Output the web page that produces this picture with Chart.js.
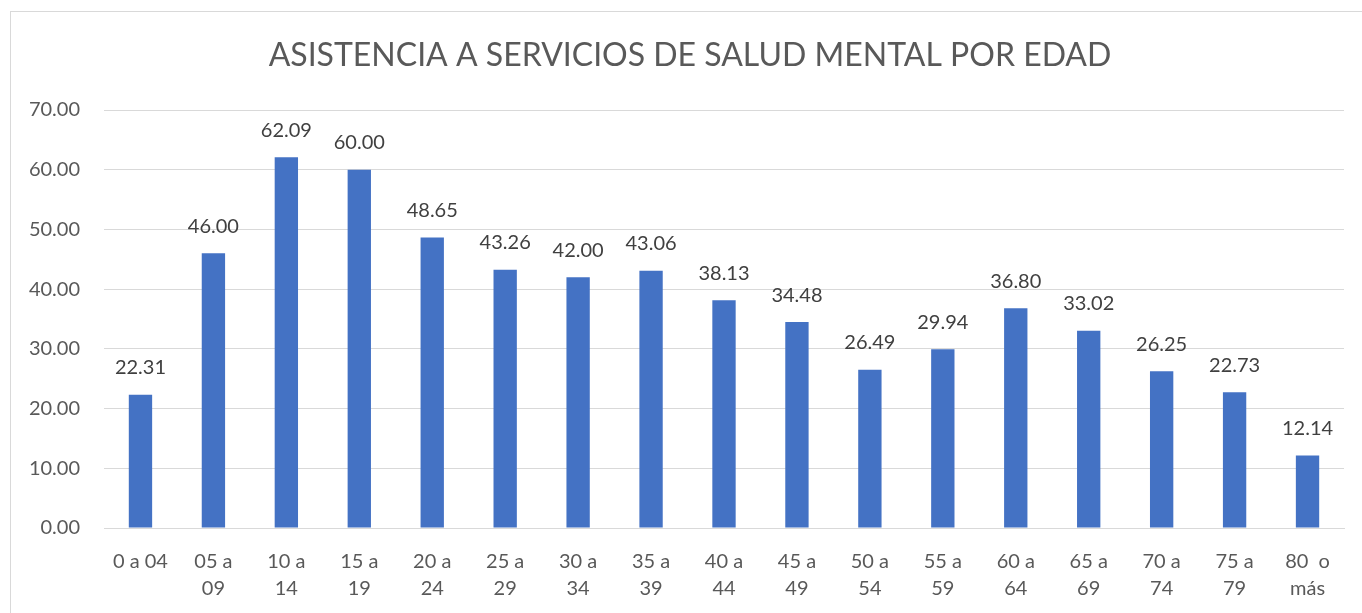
<!DOCTYPE html>
<html>
<head>
<meta charset="utf-8">
<script src="https://cdn.jsdelivr.net/npm/chart.js@4/dist/chart.umd.min.js"></script>
<style>
  html, body { margin: 0; padding: 0; background: #fff; overflow: hidden; }
  #frame {
    position: absolute; left: 10px; top: 11px; width: 1400px; height: 700px;
    border: 1px solid #d9d9d9; box-sizing: border-box;
  }
  #chart { position: absolute; left: 0; top: 0; }
</style>
</head>
<body>
<div id="frame"></div>
<canvas id="chart" width="1362" height="613"></canvas>
<script>
// age groups (two-line labels like the original)
const categories = [
  ["0 a 04"], ["05 a", "09"], ["10 a", "14"], ["15 a", "19"], ["20 a", "24"],
  ["25 a", "29"], ["30 a", "34"], ["35 a", "39"], ["40 a", "44"], ["45 a", "49"],
  ["50 a", "54"], ["55 a", "59"], ["60 a", "64"], ["65 a", "69"], ["70 a", "74"],
  ["75 a", "79"], ["80  o", "más"]
];

const values = [
  22.31, 46.00, 62.09, 60.00, 48.65, 43.26, 42.00, 43.06, 38.13,
  34.48, 26.49, 29.94, 36.80, 33.02, 26.25, 22.73, 12.14
];

const chartTitle = "ASISTENCIA A SERVICIOS DE SALUD MENTAL POR EDAD";
const fontFamily = "Lato, 'Open Sans', sans-serif";

// draws the value above each bar
const valueLabels = {
  id: "valueLabels",
  afterDatasetsDraw(chart) {
    const ctx = chart.ctx;
    const meta = chart.getDatasetMeta(0);
    ctx.save();
    ctx.font = "20px " + fontFamily;
    ctx.fillStyle = "#404040";
    ctx.textAlign = "center";
    ctx.textBaseline = "middle";
    meta.data.forEach((bar, i) => {
      ctx.fillText(values[i].toFixed(2), bar.x, bar.y - 27);
    });
    ctx.restore();
  },
};

// title is centred on the whole frame, not on the plot, so draw it by hand
const frameTitle = {
  id: "frameTitle",
  afterDraw(chart) {
    const ctx = chart.ctx;
    ctx.save();
    ctx.font = "32px " + fontFamily;
    ctx.fillStyle = "#595959";
    ctx.textAlign = "center";
    ctx.textBaseline = "middle";
    ctx.fillText(chartTitle, 690, 56);
    ctx.restore();
  },
};

const ctx = document.getElementById("chart").getContext("2d");

new Chart(ctx, {
  type: "bar",
  data: {
    labels: categories,
    datasets: [
      {
        data: values,
        backgroundColor: "#4472C4",
        barPercentage: 0.32,
        categoryPercentage: 1.0,
      },
    ],
  },
  options: {
    responsive: false,
    animation: false,
    layout: { padding: { left: 0, right: 18, top: 110, bottom: 0 } },
    plugins: {
      legend: { display: false },
      tooltip: { enabled: false },
      title: { display: false },
    },
    scales: {
      x: {
        grid: { display: false, drawTicks: false },
        border: { color: "#d9d9d9" },
        ticks: {
          color: "#595959",
          font: { family: fontFamily, size: 20, lineHeight: 1.35 },
          maxRotation: 0,
          autoSkip: false,
          padding: 20,
        },
        afterFit: (scale) => { scale.height = 85; },
      },
      y: {
        min: 0,
        max: 70,
        grid: { color: "#d9d9d9", drawTicks: false },
        border: { display: false },
        ticks: {
          stepSize: 10,
          color: "#595959",
          font: { family: fontFamily, size: 20 },
          padding: 24,
          callback: (v) => v.toFixed(2),
        },
        afterFit: (scale) => { scale.width = 104; },
      },
    },
  },
  plugins: [valueLabels, frameTitle],
});
</script>
</body>
</html>
